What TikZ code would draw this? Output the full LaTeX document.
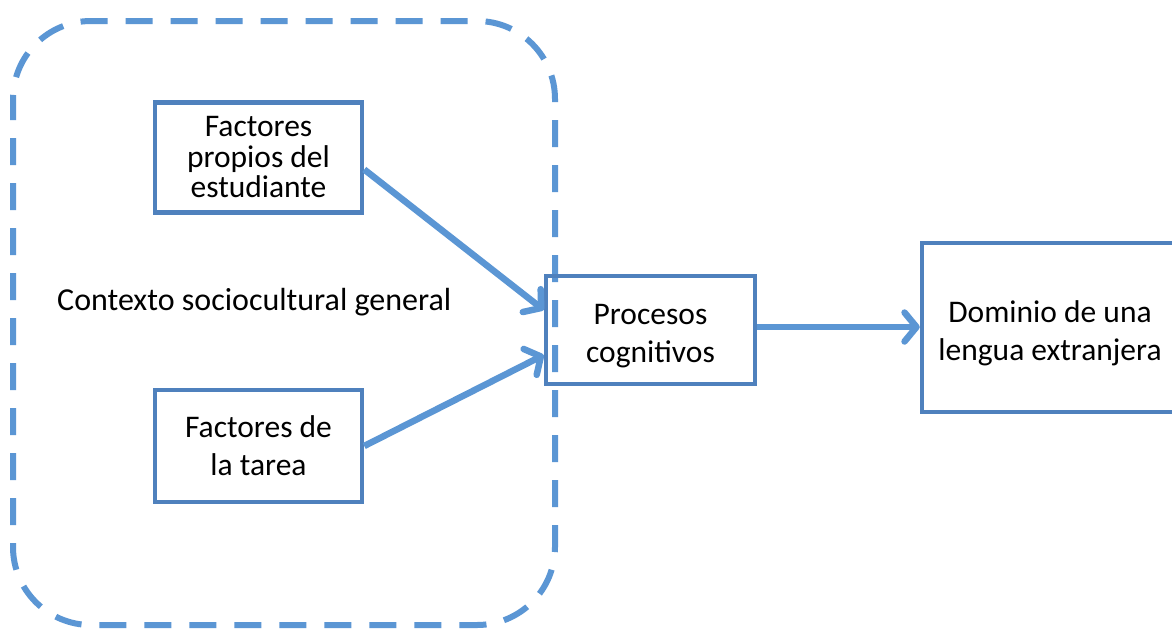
\documentclass[tikz,border=0pt]{standalone}
\usepackage{fontspec}
\setmainfont{Carlito}
\usetikzlibrary{arrows.meta}
\definecolor{boxblue}{RGB}{79,129,189}
\definecolor{linkblue}{RGB}{91,150,212}
\tikzset{
  factbox/.style={draw=boxblue, line width=4.5pt, rectangle, align=center, inner sep=0pt,
                  font=\fontsize{31.5}{38}\selectfont},
  linkarrow/.style={draw=linkblue, line width=6.5pt,
                  -{Straight Barb[length=12pt,width=29pt,round]}},
  contextframe/.style={draw=linkblue, line width=6pt, dash pattern=on 27pt off 18pt,
                  dash phase=6pt, rounded corners=78pt},
}
\begin{document}
\begin{tikzpicture}[x=1pt,y=-1pt]
\useasboundingbox (0,0) rectangle (1172,630);
\clip (0,0) rectangle (1172,630);
\fill[white] (0,0) rectangle (1172,630);
\draw[contextframe] (13,21) rectangle (555,625);
\node[factbox, minimum width=207pt, minimum height=110pt,
      font=\fontsize{31.5}{30.5}\selectfont] (A) at (258.5,157.5)
      {Factores\\propios del\\estudiante};
\node[factbox, minimum width=207pt, minimum height=112pt] (B) at (258.5,446)
      {Factores de\\la tarea};
\node[factbox, minimum width=209pt, minimum height=108pt] (C) at (650.5,330)
      {\rule{0pt}{32pt}Procesos\\cognitivos};
\node[factbox, minimum width=256pt, minimum height=169pt] (D) at (1050,327.5)
      {\rule{0pt}{33pt}Dominio de una\\lengua extranjera};
\node[anchor=west, inner sep=0pt, font=\fontsize{32}{38}\selectfont] (ctx) at (57,302)
      {Contexto sociocultural general};
\draw[linkarrow] ([yshift=-12pt]A.east) -- ([yshift=20pt]C.west);
\draw[linkarrow] (B.east) -- ([yshift=-25pt]C.west);
\draw[linkarrow] ([yshift=3pt]C.east) -- ([yshift=3pt]C.east -| D.west);
\end{tikzpicture}
\end{document}
